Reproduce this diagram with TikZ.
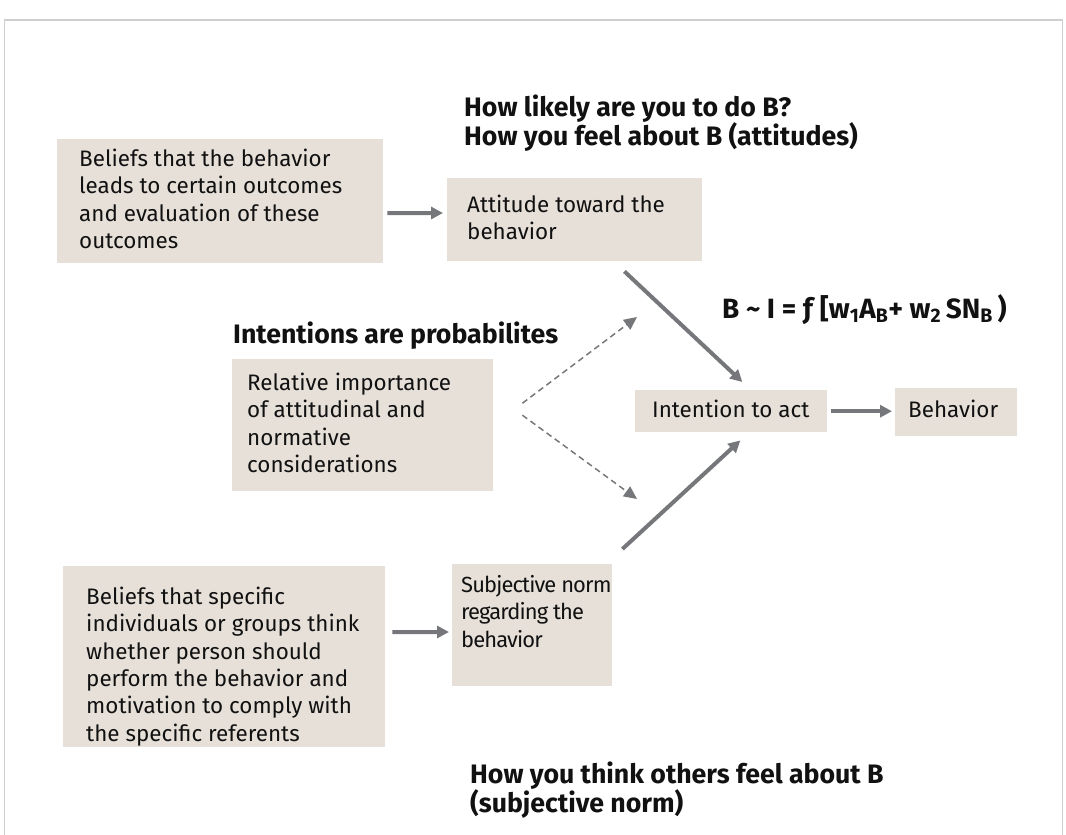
\documentclass[tikz,border=0pt]{standalone}
\usepackage{fontspec}
\setmainfont{Fira Sans}
\usetikzlibrary{arrows.meta}

\definecolor{panelfill}{HTML}{E6E0D9}
\definecolor{linkgray}{HTML}{76777A}
\definecolor{framegray}{HTML}{CFCFCF}
\definecolor{inkblack}{HTML}{111111}

% panel text: width, height, left padding, top padding, lines
\newcommand{\paneltext}[5]{\parbox[c][#2][t]{#1}{\vspace*{#4}\raggedright
  \leftskip=#3\relax\rightskip=-60bp plus 1fil\relax\strut #5}}
% headline block whose baseline is the first line
\newcommand{\headlines}[1]{\parbox[t]{20cm}{\raggedright #1}}

\tikzset{
  panel/.style={fill=panelfill, inner sep=0pt, anchor=north west, text=inkblack,
    font=\fontsize{22.5}{27.5}\selectfont},
  headline/.style={anchor=base west, inner sep=0pt, text=inkblack,
    font=\bfseries\fontsize{26.8}{29.5}\selectfont},
  flow/.style={draw=linkgray, line width=4bp, -{Triangle[length=12bp,width=12bp]}},
  weight/.style={draw=linkgray, line width=1.5bp, dash pattern=on 6bp off 4bp,
    -{Triangle[length=13bp,width=12bp]}},
}

\begin{document}
\begin{tikzpicture}[x=1bp, y=-1bp]
  \useasboundingbox (0,0) rectangle (1066,835);
  % page frame, open at the bottom
  \draw[framegray, line width=1.2bp] (4.5,835) -- (4.5,20) -- (1062.5,20) -- (1062.5,835);

  % panels
  \node[panel] (outcomes) at (57,139)
    {\paneltext{326bp}{124bp}{22bp}{8bp}{Beliefs that the behavior\\leads to certain outcomes\\and evaluation of these\\outcomes}};
  \node[panel] (attitude) at (447,178)
    {\paneltext{255bp}{83bp}{20bp}{15bp}{Attitude toward the\\behavior}};
  \node[panel] (weights) at (232,359)
    {\paneltext{261bp}{132bp}{15bp}{12bp}{Relative importance\\of attitudinal and\\normative\\considerations}};
  \node[panel] (intent) at (635,390)
    {\paneltext{192bp}{42bp}{17bp}{8bp}{Intention to act}};
  \node[panel] (behavior) at (895,388)
    {\paneltext{122bp}{48bp}{13bp}{10bp}{Behavior}};
  \node[panel, font=\addfontfeatures{LetterSpace=-4}\fontsize{22}{27.5}\selectfont] (norm) at (452,564)
    {\paneltext{160bp}{122bp}{9bp}{9bp}{Subjective norm\\regarding the\\behavior}};
  \node[panel] (referents) at (63,566)
    {\paneltext{322bp}{181bp}{23bp}{19bp}{Beliefs that specific\\individuals or groups think\\whether person should\\perform the behavior and\\motivation to comply with\\the specific referents}};

  % headlines
  \node[headline] (qlikely) at (464,116)
    {\headlines{How likely are you to do B?\\How you feel about B (attitudes)}};
  \node[headline] (qprob) at (233,343) {Intentions are probabilites};
  \node[headline] (qothers) at (470,783)
    {\headlines{How you think others feel about B\\(subjective norm)}};
  \node[headline, font=\bfseries\fontsize{28}{30}\selectfont] (formula) at (722,318)
    {B \char"007E{} I = \char"0192{} [w\textsubscript{1}A\textsubscript{B}+ w\textsubscript{2}\,SN\textsubscript{B}\,)};

  % free ends of the diagonal links
  \coordinate (attOut) at ([shift={(-78bp,-10bp)}]attitude.south east);
  \coordinate (intTop) at ([shift={(-85bp,8bp)}]intent.north east);
  \coordinate (normOut) at ([shift={(10bp,15bp)}]norm.north east);
  \coordinate (intBot) at ([shift={(-87bp,-8bp)}]intent.south east);
  \coordinate (wSplitA) at ([shift={(29bp,22bp)}]weights.east);
  \coordinate (wSplitB) at ([shift={(29bp,10bp)}]weights.east);
  \coordinate (wUp) at (637,317);
  \coordinate (wDown) at (637,499);

  % links
  \draw[flow, shorten <=4bp, shorten >=4bp]
    ([yshift=-74bp]outcomes.north east) -- ([yshift=-35bp]attitude.north west);
  \draw[flow, shorten <=7bp, shorten >=3bp]
    ([yshift=-66bp]referents.north east) -- ([yshift=-68bp]norm.north west);
  \draw[flow, shorten <=4bp, shorten >=3bp] (intent.east) -- (intent.east -| behavior.west);
  \draw[flow] (attOut) -- (intTop);
  \draw[flow] (normOut) -- (intBot);
  \draw[weight] (wSplitA) -- (wUp);
  \draw[weight] (wSplitB) -- (wDown);
\end{tikzpicture}
\end{document}
